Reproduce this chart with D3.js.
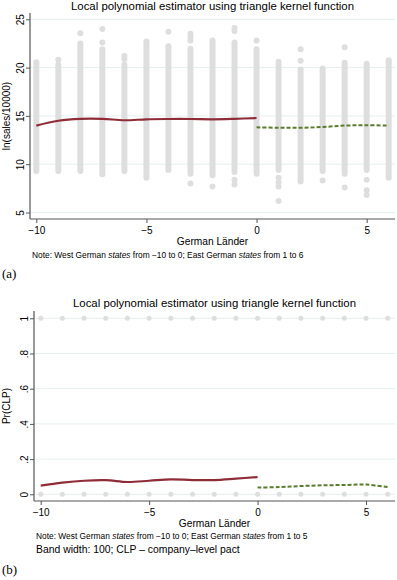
<!DOCTYPE html>
<html>
<head>
<meta charset="utf-8">
<script src="https://cdn.jsdelivr.net/npm/d3@7"></script>
<style>
  html, body { margin:0; padding:0; background:#fff; }
  svg { display:block; font-family:"Liberation Sans", Arial, Helvetica, sans-serif; }
</style>
</head>
<body>
<div id="chart"></div>
<script>
/* ---------- data ---------- */
const STATES      = [-10,-9,-8,-7,-6,-5,-4,-3,-2,-1,0,1,2,3,4,5,6];
const WEST_STATES = [-10,-9,-8,-7,-6,-5,-4,-3,-2,-1,0];
const EAST_STATES = [0,1,2,3,4,5,6];
const X_TICKS     = [-10,-5,0,5];

// (a) ln(sales/10000): spread of observations per state (top / bottom of the stripe)
const SALES_TOP    = [20.55,20.3,22.5,21.9,20.3,22.7,22.2,21.95,22.8,22.6,21.9,20.6,19.8,19.9,20.5,20.4,20.75];
const SALES_BOTTOM = [9.3,9.3,9.3,8.95,9.3,8.6,9.4,9.0,8.85,9.2,9.0,9.4,8.2,9.3,9.0,9.4,8.6];
// isolated observations [state, value]
const SALES_EXTRA  = [[-9,20.8],[-8,23.55],[-7,24.0],[-7,22.6],[-6,21.2],[-6,20.9],[-4,23.7],
                      [-3,23.5],[-3,23.2],[-3,22.8],[-3,8.0],[-2,7.7],[-1,24.1],[-1,23.8],[-1,8.4],[-1,7.9],
                      [0,22.8],[1,8.6],[1,8.1],[1,7.7],[1,6.2],[2,21.9],[2,20.7],[3,8.3],[4,22.1],[4,7.6],
                      [5,8.4],[5,7.3],[5,6.8]];
const SALES_FIT_WEST = [14.0,14.5,14.7,14.7,14.55,14.65,14.68,14.68,14.65,14.7,14.78];
const SALES_FIT_EAST = [13.82,13.77,13.77,13.85,14.0,14.03,14.0];
const SALES_TICKS    = [5,10,15,20,25];

// (b) Pr(CLP)
const CLP_OUTCOMES  = [0,1];
const CLP_FIT_WEST  = [0.049,0.066,0.077,0.08,0.07,0.077,0.085,0.081,0.081,0.089,0.098];
const CLP_FIT_EAST  = [0.038,0.041,0.047,0.051,0.053,0.055,0.041];
const CLP_TICKS     = [0,0.2,0.4,0.6,0.8,1];
const CLP_TICK_TEXT = ["0",".2",".4",".6",".8","1"];

const TITLE = "Local polynomial estimator using triangle kernel function";

/* ---------- style ---------- */
const C_DOT   = "#dedede";
const C_GRID  = "#e6eeee";
const C_AXIS  = "#555";
const C_WEST  = "#8e2c38";
const C_EAST  = "#5a7a2e";

const W = 397, H = 580;
const svg = d3.select("#chart").append("svg").attr("width", W).attr("height", H);

const fmtX = d => d < 0 ? "\u2212" + (-d) : String(d);

/* ---------- helpers ---------- */
function frame(g, box, x, y, yTicks, yFmt, yTitle, yTitleX){
  // grid
  g.append("g").selectAll("line").data(yTicks).join("line")
    .attr("x1", box.l).attr("x2", box.r)
    .attr("y1", d => y(d)).attr("y2", d => y(d))
    .attr("stroke", C_GRID).attr("stroke-width", 1);

  // y axis
  const ya = g.append("g").attr("transform", `translate(${box.l},0)`)
    .call(d3.axisLeft(y).tickValues(yTicks).tickSize(4).tickFormat(yFmt))
    .call(a => a.select(".domain").remove());
  ya.selectAll(".tick line").attr("stroke", C_AXIS);
  ya.selectAll(".tick text")
    .attr("x", null).attr("dy", null)
    .attr("transform", "translate(-6,0) rotate(-90)")
    .attr("text-anchor", "middle")
    .attr("font-size", 10).attr("fill", "#000")
    .attr("font-family", "Liberation Sans, Arial, sans-serif");
  g.append("line").attr("x1", box.l).attr("x2", box.l).attr("y1", box.t).attr("y2", box.b)
    .attr("stroke", C_AXIS).attr("stroke-width", 1.2);

  // x axis
  const xa = g.append("g").attr("transform", `translate(0,${box.b})`)
    .call(d3.axisBottom(x).tickValues(X_TICKS).tickSize(4).tickPadding(4).tickFormat(fmtX))
    .call(a => a.select(".domain").remove());
  xa.selectAll(".tick line").attr("stroke", C_AXIS);
  xa.selectAll(".tick text").attr("font-size", 10).attr("fill", "#000")
    .attr("font-family", "Liberation Sans, Arial, sans-serif");
  g.append("line").attr("x1", box.l).attr("x2", box.r).attr("y1", box.b).attr("y2", box.b)
    .attr("stroke", C_AXIS).attr("stroke-width", 1.2);

  const cx = (box.l + box.r) / 2;
  g.append("text").attr("x", cx).attr("y", box.t - 3 - box.titleGap)
    .attr("text-anchor", "middle").attr("font-size", 11.4).text(TITLE);
  g.append("text").attr("x", cx).attr("y", box.b + 26)
    .attr("text-anchor", "middle").attr("font-size", 10.2).text("German L\u00e4nder");
  g.append("text")
    .attr("transform", `translate(${yTitleX},${(box.t + box.b) / 2}) rotate(-90)`)
    .attr("text-anchor", "middle").attr("font-size", 10).text(yTitle);
}

function note(g, x0, y0, last){
  const t = g.append("text").attr("x", x0).attr("y", y0).attr("font-size", 8.4);
  t.append("tspan").text("Note: West German ");
  t.append("tspan").attr("font-style", "italic").text("states");
  t.append("tspan").text(" from \u221210 to 0; East German ");
  t.append("tspan").attr("font-style", "italic").text("states");
  t.append("tspan").text(` from 1 to ${last}`);
}

function fits(g, x, y, west, east){
  const line = d3.line().curve(d3.curveCatmullRom).x(d => x(d.s)).y(d => y(d.v));
  g.append("path").datum(WEST_STATES.map((s,i) => ({s, v: west[i]})))
    .attr("fill", "none").attr("stroke", C_WEST).attr("stroke-width", 2.2).attr("d", line);
  g.append("path").datum(EAST_STATES.map((s,i) => ({s, v: east[i]})))
    .attr("fill", "none").attr("stroke", C_EAST).attr("stroke-width", 2)
    .attr("stroke-dasharray", "4,2").attr("d", line);
}

/* ---------- panel (a) ---------- */
{
  const box = { l:30, r:395, t:13, b:219, titleGap:0 };
  const x = d3.scaleLinear().domain([-10,6]).range([box.l + 6.3, box.r - 6.3]);
  const y = d3.scaleLinear().domain([5,25]).range([box.b - 6.5, box.t + 6.3]);
  const g = svg.append("g");

  frame(g, box, x, y, SALES_TICKS, d => d, "ln(sales/10000)", 10);

  // observation stripes
  g.append("g").selectAll("line").data(STATES).join("line")
    .attr("x1", d => x(d)).attr("x2", d => x(d))
    .attr("y1", (d,i) => y(SALES_TOP[i])).attr("y2", (d,i) => y(SALES_BOTTOM[i]))
    .attr("stroke", C_DOT).attr("stroke-width", 6).attr("stroke-linecap", "round");
  g.append("g").selectAll("circle").data(SALES_EXTRA).join("circle")
    .attr("cx", d => x(d[0])).attr("cy", d => y(d[1])).attr("r", 3).attr("fill", C_DOT);

  fits(g, x, y, SALES_FIT_WEST, SALES_FIT_EAST);
  note(g, 32, 258, 6);

  g.append("text").attr("x", 2).attr("y", 278).attr("font-size", 13)
    .attr("font-family", "Liberation Serif, Times New Roman, serif").text("(a)");
}

/* ---------- panel (b) ---------- */
{
  const box = { l:34, r:395, t:311, b:501, titleGap:1 };
  const x = d3.scaleLinear().domain([-10,6]).range([box.l + 6.7, box.r - 7.3]);
  const y = d3.scaleLinear().domain([0,1]).range([box.b - 6.7, box.t + 7.3]);
  const g = svg.append("g");

  frame(g, box, x, y, CLP_TICKS, (d,i) => CLP_TICK_TEXT[i], "Pr(CLP)", 10);

  const pts = STATES.flatMap(s => CLP_OUTCOMES.map(v => ({s, v})));
  g.append("g").selectAll("circle").data(pts).join("circle")
    .attr("cx", d => x(d.s)).attr("cy", d => y(d.v)).attr("r", 2.5).attr("fill", C_DOT);

  fits(g, x, y, CLP_FIT_WEST, CLP_FIT_EAST);
  note(g, 36, 539, 5);

  g.append("text").attr("x", 36).attr("y", 553).attr("font-size", 10.4)
    .text("Band width: 100; CLP \u2013 company\u2013level pact");

  g.append("text").attr("x", 2).attr("y", 574).attr("font-size", 13)
    .attr("font-family", "Liberation Serif, Times New Roman, serif").text("(b)");
}
</script>
</body>
</html>
